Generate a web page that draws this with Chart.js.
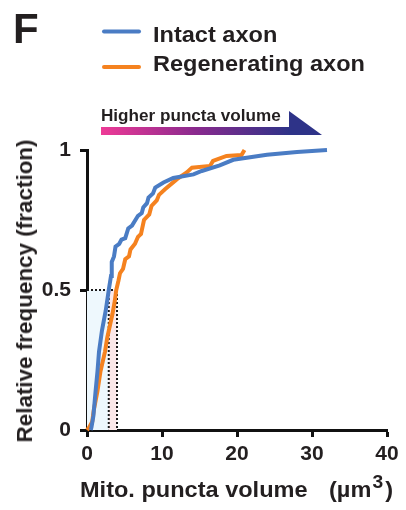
<!DOCTYPE html>
<html><head><meta charset="utf-8">
<script src="https://cdn.jsdelivr.net/npm/chart.js@4"></script>
<style>
html,body{margin:0;padding:0;background:#fff;}
#wrap{position:relative;width:406px;height:510px;overflow:hidden;font-family:"Liberation Sans",Arial,sans-serif;font-weight:bold;color:#231f20;}
canvas{position:absolute;left:0;top:0;}
.t{position:absolute;white-space:nowrap;line-height:1;}
.w{transform-origin:0 0;transform:scaleX(1.07);}
</style></head><body>
<div id="wrap">
<canvas id="c" width="406" height="510"></canvas>
<div class="t" style="left:13px;top:7.5px;font-size:42px;">F</div>
<div class="t w" style="left:153px;top:24px;font-size:22px;">Intact axon</div>
<div class="t w" style="left:153px;top:53px;font-size:22px;">Regenerating axon</div>
<div class="t w" style="left:101px;top:108px;font-size:16px;">Higher puncta volume</div>
<div class="t" id="ytitle" style="left:0;top:0;font-size:22px;transform-origin:0 0;">Relative frequency (fraction)</div>
<div class="t w" style="left:80px;top:478.5px;font-size:22px;">Mito. puncta volume<span style="display:inline-block;width:20px;"></span>(µm<span style="position:relative;top:-9px;font-size:18px;margin:0 2px 0 1px;">3</span>)</div>
</div>
<script>
// ---- data ----
const intactVolume = [0.5,0.6,0.85,1.15,1.4,1.6,2.0,2.5,2.9,3.2,3.3,3.6,3.8,4.3,4.6,5.1,5.5,6.0,6.8,7.3,7.5,8.0,8.2,8.8,9.1,10.2,11.5,14.2,15.3,17.7,19.5,24,28,32];
const intactFreq   = [0,0.01,0.05,0.14,0.21,0.28,0.356,0.427,0.5,0.55,0.6,0.62,0.655,0.665,0.68,0.685,0.72,0.73,0.765,0.775,0.795,0.81,0.83,0.845,0.866,0.884,0.90,0.913,0.925,0.945,0.965,0.983,0.993,1.0];
const regenVolume  = [0,0.3,0.7,0.9,1.4,1.8,2.4,2.7,3.4,3.7,3.9,4.2,4.4,4.8,5.1,5.6,5.8,6.4,6.8,7.2,7.6,8.3,8.6,9.3,9.6,10.4,12.0,13.3,14.0,16.4,16.8,18.6,20.6,21.0];
const regenFreq    = [0,0.01,0.03,0.07,0.14,0.21,0.28,0.33,0.415,0.46,0.5,0.534,0.56,0.575,0.61,0.62,0.645,0.665,0.69,0.70,0.75,0.77,0.80,0.82,0.84,0.86,0.896,0.92,0.937,0.943,0.961,0.979,0.982,1.0];
const medians = [2.9, 4.0];           // intact, regenerating (at 0.5)
const xTicks = [0,10,20,30,40];
const yTicks = [0,0.5,1];
const yTickLabels = ['0','0.5','1'];
const seriesNames = ['Intact axon','Regenerating axon'];
const seriesColors = ['#4a7cc4','#f5821f'];

const FONT = '"Liberation Sans", Arial, sans-serif';

const decor = {
  id:'decor',
  beforeDatasetsDraw(chart){
    const {ctx, scales:{x,y}} = chart;
    const x0 = x.getPixelForValue(0), xa = x.getPixelForValue(medians[0]), xb = x.getPixelForValue(medians[1]);
    const y0 = y.getPixelForValue(0), yh = y.getPixelForValue(0.5);
    ctx.save();
    ctx.fillStyle = '#eef8fd';
    ctx.fillRect(x0, yh, xa-x0, y0-yh);
    ctx.fillStyle = '#fbe8e9';
    ctx.fillRect(xa, yh, xb-xa, y0-yh);
    ctx.strokeStyle = '#1a1a1a';
    ctx.lineWidth = 2;
    ctx.setLineDash([2,2]);
    ctx.beginPath();
    ctx.moveTo(x0, yh); ctx.lineTo(xb, yh);
    ctx.moveTo(xa, yh); ctx.lineTo(xa, y0);
    ctx.moveTo(xb, yh); ctx.lineTo(xb, y0);
    ctx.stroke();
    ctx.restore();
  },
  afterDraw(chart){
    const ctx = chart.ctx;
    ctx.save();
    // legend lines
    ctx.lineWidth = 4;
    ctx.lineCap = 'round';
    [[31.5,0],[67,1]].forEach(([yy,i])=>{
      ctx.strokeStyle = seriesColors[i];
      ctx.beginPath(); ctx.moveTo(104, yy); ctx.lineTo(139, yy); ctx.stroke();
    });
    // arrow
    const g = ctx.createLinearGradient(101,0,290,0);
    g.addColorStop(0,'#ee3a96');
    g.addColorStop(0.5,'#8a2a8e');
    g.addColorStop(1,'#2e3388');
    ctx.fillStyle = g;
    ctx.fillRect(101,127,189,8);
    ctx.fillStyle = '#2e3388';
    ctx.beginPath(); ctx.moveTo(289,111); ctx.lineTo(322,135); ctx.lineTo(289,135); ctx.closePath(); ctx.fill();
    ctx.restore();
  }
};

function mk(xs, ys){ return xs.map((v,i)=>({x:v, y:ys[i]})); }

new Chart(document.getElementById('c'), {
  type:'line',
  data:{datasets:[
    {label:seriesNames[0], data:mk(intactVolume,intactFreq), borderColor:seriesColors[0], borderWidth:4, pointRadius:0, tension:0, fill:false, clip:false},
    {label:seriesNames[1], data:mk(regenVolume,regenFreq), borderColor:seriesColors[1], borderWidth:4, pointRadius:0, tension:0, fill:false, clip:false}
  ]},
  options:{
    responsive:false, animation:false, devicePixelRatio:1,
    layout:{padding:{top:150,right:19,bottom:40,left:0}},
    plugins:{legend:{display:false}, tooltip:{enabled:false}},
    scales:{
      x:{type:'linear', min:0, max:40,
        afterFit(s){ s.height = 40; },
        afterBuildTicks(s){ s.ticks = xTicks.map(v=>({value:v})); },
        ticks:{color:'#231f20', font:{family:FONT,size:21,weight:'bold'}, padding:5, maxRotation:0, autoSkip:false, callback:v=>String(v)},
        grid:{display:true, drawOnChartArea:false, drawTicks:true, tickLength:7, tickWidth:3, tickColor:'#111'},
        border:{display:true, color:'#111', width:3}
      },
      y:{type:'linear', min:0, max:1,
        afterFit(s){ s.width = 87; },
        afterBuildTicks(s){ s.ticks = yTicks.map(v=>({value:v})); },
        ticks:{color:'#231f20', font:{family:FONT,size:21,weight:'bold'}, padding:9, autoSkip:false,
          callback:v=>yTickLabels[yTicks.indexOf(v)]},
        grid:{display:true, drawOnChartArea:false, drawTicks:true, tickLength:7, tickWidth:3, tickColor:'#111'},
        border:{display:true, color:'#111', width:3}
      }
    }
  },
  plugins:[decor]
});

// y title centred on the axis
const yt = document.getElementById('ytitle');
const w = yt.getBoundingClientRect().width * 1.02;
yt.style.transform = 'translate(14px,' + (291 + w/2) + 'px) rotate(-90deg) scaleX(1.02)';
</script>
</body></html>
